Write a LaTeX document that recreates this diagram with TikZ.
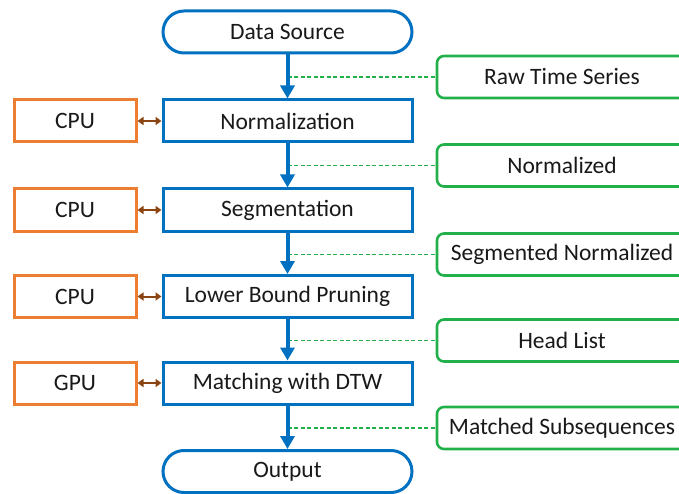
\documentclass[tikz,border=0pt]{standalone}
\usepackage{fontspec}
\setmainfont{Carlito}
\usetikzlibrary{arrows.meta,shapes.misc}
\definecolor{flowblue}{HTML}{0070C0}
\definecolor{hwor}{HTML}{ED7D31}
\definecolor{datagreen}{HTML}{22B04B}
\definecolor{linkbrown}{HTML}{8B4513}
\tikzset{
  x=1pt, y=-1pt,
  every node/.style={font=\fontsize{23.5}{26}\selectfont, text=black!90, inner sep=0pt},
  stage/.style={draw=flowblue, line width=3pt, minimum width=249pt, minimum height=42pt},
  terminal/.style={stage, rounded rectangle},
  unit/.style={draw=hwor, line width=3pt, minimum width=122pt, minimum height=42pt},
  datum/.style={draw=datagreen, line width=2.6pt, rounded corners=7pt, minimum width=250pt, minimum height=42pt},
  flow/.style={draw=flowblue, line width=4pt, -{Triangle[width=14pt,length=13pt]}},
  tie/.style={draw=datagreen, line width=1.7pt, dash pattern=on 4pt off 2.5pt},
  link/.style={draw=linkbrown, line width=2pt, {Triangle[width=8pt,length=6pt]}-{Triangle[width=8pt,length=6pt]}}
}
\begin{document}
\begin{tikzpicture}
\useasboundingbox (0,0) rectangle (679,494);
\clip (0,0) rectangle (679,494);
% process chain
\node[terminal] (src) at (287.5,32) {Data Source};
\node[stage] (norm) at (287.5,121) {Normalization};
\node[stage] (seg) at (287.5,210) {Segmentation};
\node[stage] (lbp) at (287.5,296.5) {Lower Bound Pruning};
\node[stage] (dtw) at (287.5,383) {Matching with DTW};
\node[terminal] (out) at (287.5,471.5) {Output};
% processing units
\node[unit] (u1) at (75,121) {CPU};
\node[unit] (u2) at (75,210) {CPU};
\node[unit] (u3) at (75,296.5) {CPU};
\node[unit] (u4) at (75,383) {GPU};
% intermediate data
\node[datum] (d1) at (562,77) {Raw Time Series};
\node[datum] (d2) at (562,165.5) {Normalized};
\node[datum] (d3) at (562,254.5) {Segmented Normalized};
\node[datum] (d4) at (562,340.5) {Head List};
\node[datum] (d5) at (562,428) {Matched Subsequences};
% data labels tied to the flow
\coordinate (t1) at (287.5,77);
\coordinate (t2) at (287.5,165.5);
\coordinate (t3) at (287.5,254.5);
\coordinate (t4) at (287.5,340.5);
\coordinate (t5) at (287.5,428);
\foreach \i in {1,...,5} \draw[tie] (t\i) -- (d\i.west);
% flow arrows
\draw[flow] (src.south) -- (norm.north);
\draw[flow] (norm.south) -- (seg.north);
\draw[flow] (seg.south) -- (lbp.north);
\draw[flow] (lbp.south) -- (dtw.north);
\draw[flow] (dtw.south) -- (out.north);
% unit links
\draw[link] (u1.east) -- (norm.west);
\draw[link] (u2.east) -- (seg.west);
\draw[link] (u3.east) -- (lbp.west);
\draw[link] (u4.east) -- (dtw.west);
\end{tikzpicture}
\end{document}
